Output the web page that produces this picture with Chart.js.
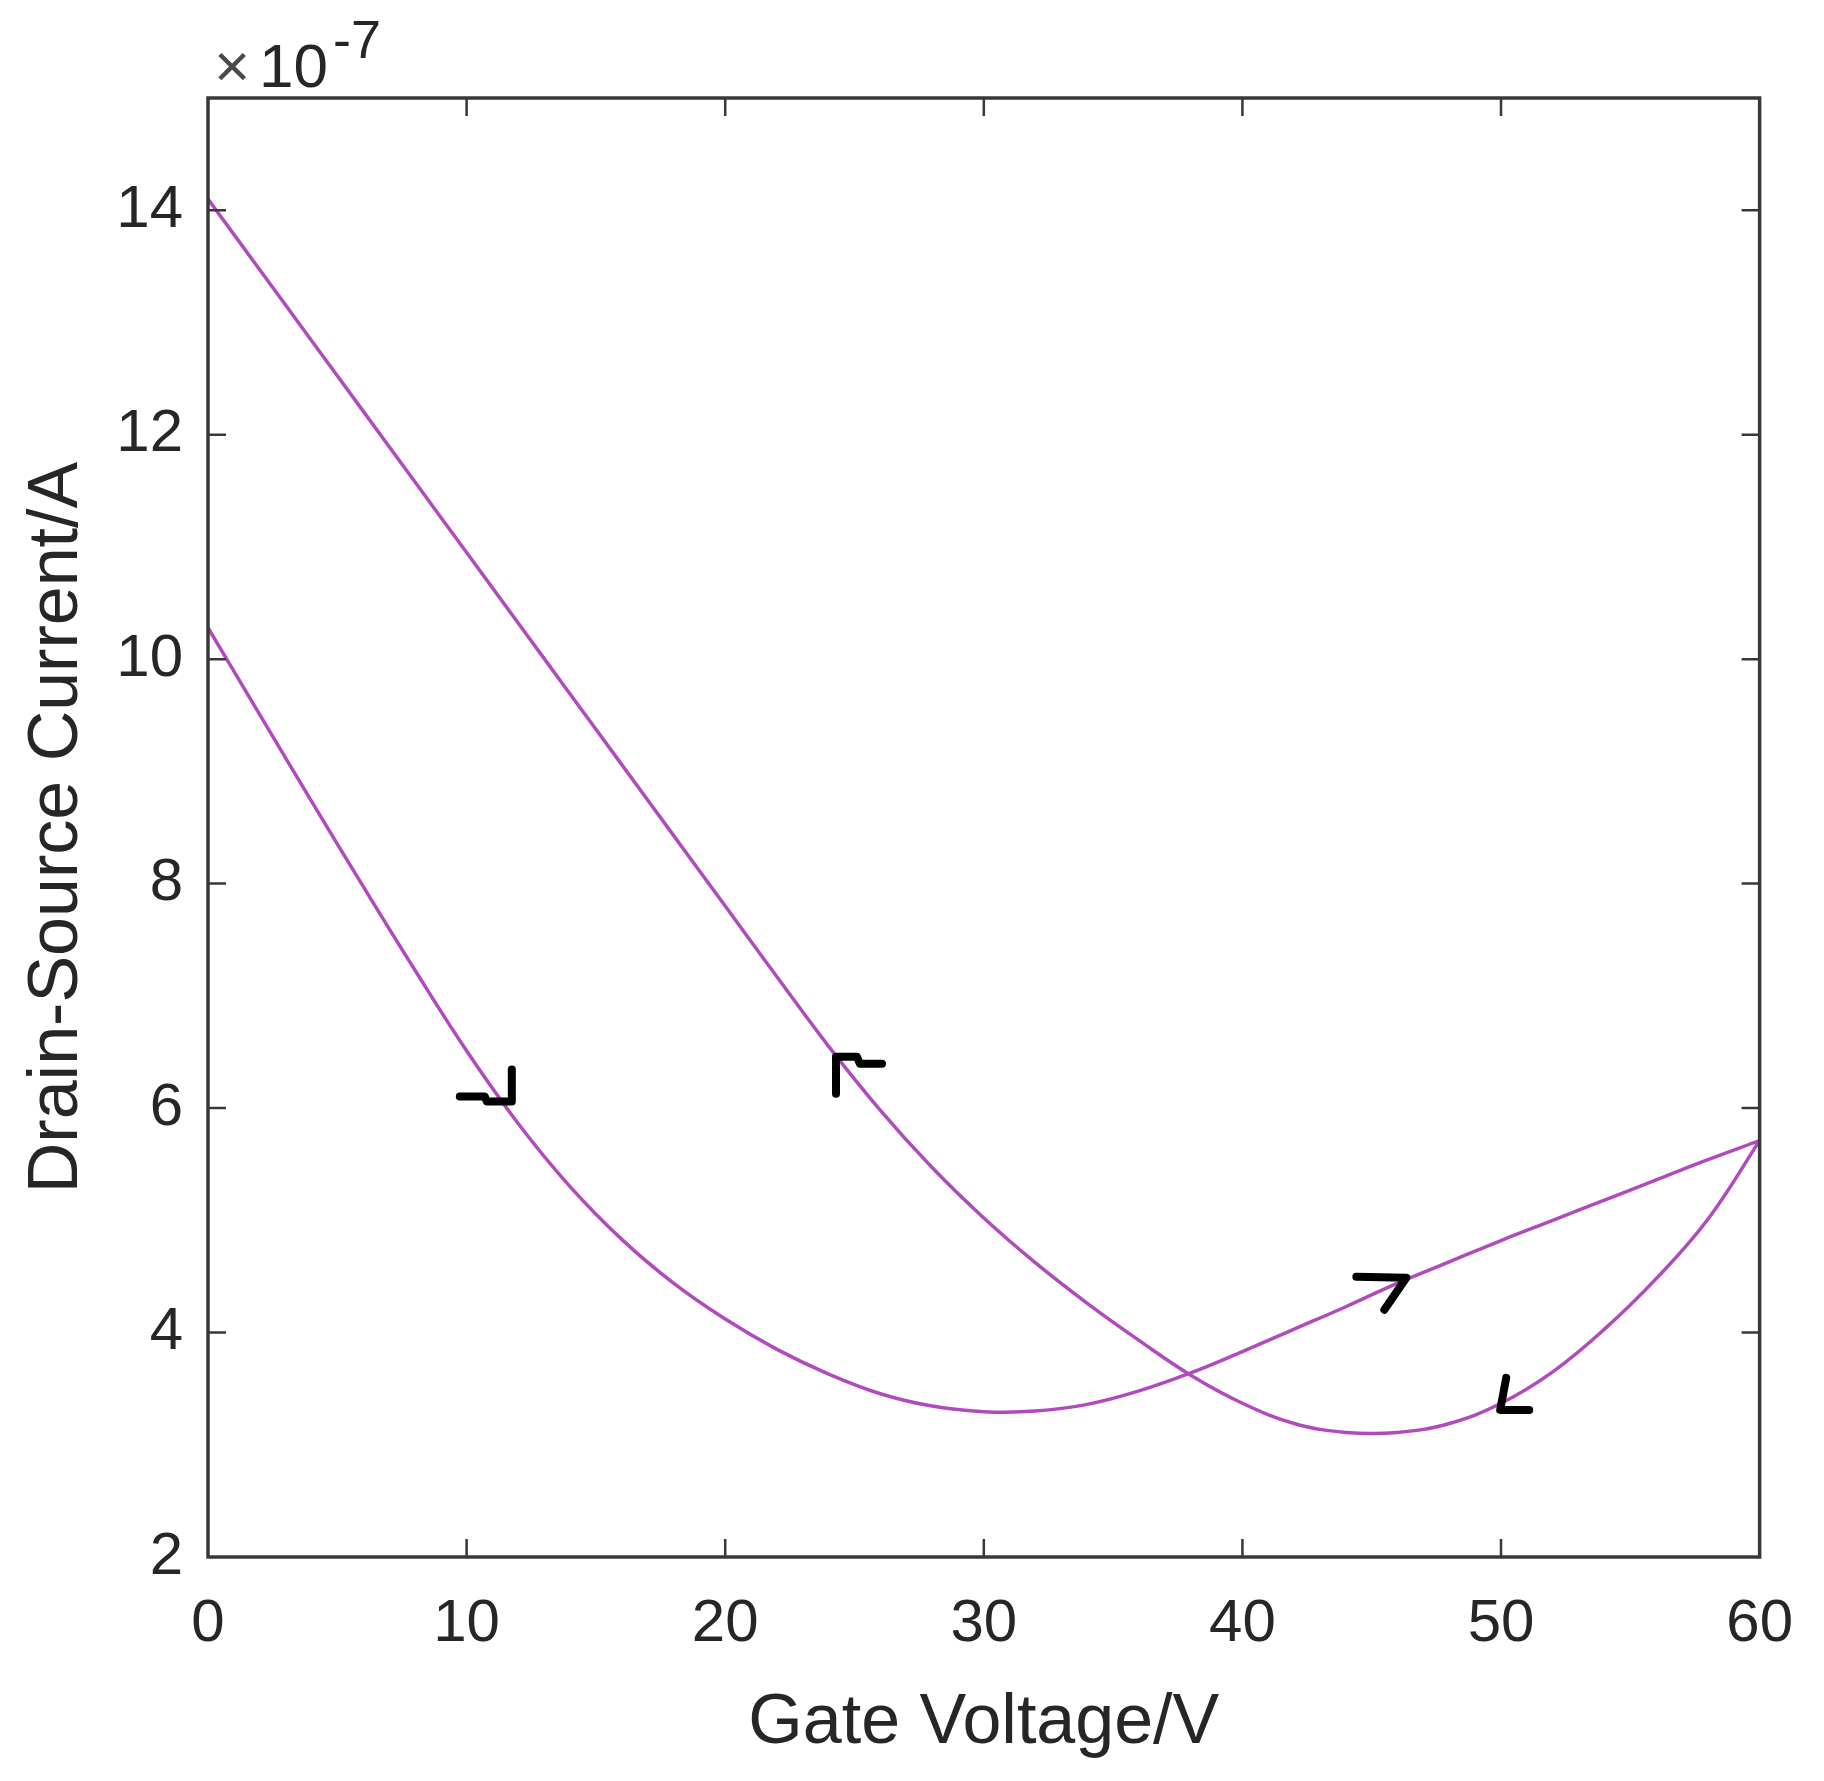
<!DOCTYPE html>
<html>
<head>
<meta charset="utf-8">
<script src="https://cdn.jsdelivr.net/npm/chart.js@4.4.1/dist/chart.umd.min.js"></script>
<style>
  html, body { margin: 0; padding: 0; background: #ffffff; }
  #wrap { width: 1824px; height: 1781px; }
</style>
</head>
<body>
<div id="wrap"><canvas id="c" width="1824" height="1781"></canvas></div>
<script>
// ---------------- data (current in units of 1e-7 A) ----------------
const xTicks = [0, 10, 20, 30, 40, 50, 60];
const yTicks = [2, 4, 6, 8, 10, 12, 14];
const xRange = [0, 60];
const yRange = [2, 15];
const xTitle = 'Gate Voltage/V';
const yTitle = 'Drain-Source Current/A';
const exponentBase = '10';
const exponentPower = '-7';

// forward sweep 0 -> 60 V
const forwardVoltage = [0, 2, 4, 6, 8, 10, 12, 14, 16, 18, 20, 22, 24, 26, 28, 30, 32, 34, 36, 38, 40, 42, 44, 46, 48, 50, 52, 54, 56, 58, 60];
const forwardCurrent = [10.28, 9.505, 8.735, 7.975, 7.23, 6.51, 5.86, 5.30, 4.83, 4.44, 4.12, 3.85, 3.63, 3.455, 3.345, 3.295, 3.30, 3.36, 3.48, 3.64, 3.83, 4.03, 4.23, 4.44, 4.63, 4.82, 5.00, 5.18, 5.36, 5.54, 5.71];

// reverse sweep 60 -> 0 V
const reverseVoltage = [60, 58, 56, 54, 52, 50, 48, 46, 44, 42, 40, 38, 36, 34, 32, 30, 28, 26, 24, 22, 20, 18, 16, 14, 12, 10, 8, 6, 4, 2, 0];
const reverseCurrent = [5.71, 5.01, 4.48, 4.03, 3.65, 3.37, 3.19, 3.11, 3.11, 3.19, 3.37, 3.62, 3.93, 4.26, 4.62, 5.02, 5.47, 5.98, 6.55, 7.17, 7.80, 8.43, 9.06, 9.69, 10.32, 10.95, 11.58, 12.21, 12.84, 13.47, 14.10];

// direction arrows drawn on the curves
const arrowVoltage = [11.4, 24.4, 46.3, 50.2];
const arrowCurrent = [6.05, 6.43, 4.47, 3.40];

// ---------------- styles ----------------
const FONT = '"Liberation Sans", Arial, Helvetica, sans-serif';
const TEXT = '#262626';
const AXIS = '#383838';
const LINE = '#b14bbd';
const TICK_LEN = 18;
// arrow stroke shapes (pixel offsets from the tip)
const arrowShapes = [
  [[-43, -6], [-18, -6], [-16, -1], [9, -1], [9, -33]],
  [[-3, 34], [-3, -3], [18, -3], [21, 4], [43, 4]],
  [[-49, -3], [1, -2], [-21, 30]],
  [[0, -22], [-6, 10], [23, 10]]
];

const toPoints = (xs, ys) => xs.map((v, i) => ({ x: v, y: ys[i] }));

const boxPlugin = {
  id: 'boxAndMarks',
  afterDatasetsDraw(chart) {
    const { ctx, chartArea: a, scales: { x, y } } = chart;
    ctx.save();
    // inward tick marks on all four sides
    ctx.strokeStyle = AXIS;
    ctx.lineWidth = 2.5;
    ctx.beginPath();
    xTicks.forEach(v => {
      const px = x.getPixelForValue(v);
      if (px > a.left + 2 && px < a.right - 2) {
        ctx.moveTo(px, a.bottom); ctx.lineTo(px, a.bottom - TICK_LEN);
        ctx.moveTo(px, a.top); ctx.lineTo(px, a.top + TICK_LEN);
      }
    });
    yTicks.forEach(v => {
      const py = y.getPixelForValue(v);
      if (py > a.top + 2 && py < a.bottom - 2) {
        ctx.moveTo(a.left, py); ctx.lineTo(a.left + TICK_LEN, py);
        ctx.moveTo(a.right, py); ctx.lineTo(a.right - TICK_LEN, py);
      }
    });
    ctx.stroke();
    // box
    ctx.lineWidth = 3.5;
    ctx.strokeRect(a.left, a.top, a.right - a.left, a.bottom - a.top);

    // arrows
    ctx.strokeStyle = '#000000';
    ctx.lineWidth = 8;
    ctx.lineJoin = 'round';
    ctx.lineCap = 'round';
    arrowVoltage.forEach((v, i) => {
      const tx = x.getPixelForValue(v);
      const ty = y.getPixelForValue(arrowCurrent[i]);
      const shape = arrowShapes[i];
      ctx.beginPath();
      shape.forEach((p, k) => {
        if (k === 0) ctx.moveTo(tx + p[0], ty + p[1]);
        else ctx.lineTo(tx + p[0], ty + p[1]);
      });
      ctx.stroke();
    });

    // exponent label
    ctx.textBaseline = 'alphabetic';
    ctx.textAlign = 'left';
    ctx.font = '62px ' + FONT;
    ctx.fillStyle = '#4a4a4a';
    ctx.fillText('\u00d7', a.left + 6, a.top - 11);
    ctx.fillStyle = TEXT;
    ctx.fillText(exponentBase, a.left + 51, a.top - 11);
    ctx.font = '54px ' + FONT;
    ctx.fillText(exponentPower, a.left + 125, a.top - 40);
    ctx.restore();
  }
};

new Chart(document.getElementById('c').getContext('2d'), {
  type: 'scatter',
  data: {
    datasets: [
      {
        data: toPoints(forwardVoltage, forwardCurrent),
        showLine: true, borderColor: LINE, backgroundColor: LINE,
        borderWidth: 3.5, pointRadius: 0, tension: 0.4, fill: false
      },
      {
        data: toPoints(reverseVoltage, reverseCurrent),
        showLine: true, borderColor: LINE, backgroundColor: LINE,
        borderWidth: 3.5, pointRadius: 0, tension: 0.4, fill: false
      }
    ]
  },
  options: {
    responsive: false,
    animation: false,
    devicePixelRatio: 1,
    layout: { padding: { top: 98, right: 53, left: 0, bottom: 0 } },
    plugins: { legend: { display: false }, tooltip: { enabled: false } },
    scales: {
      x: {
        type: 'linear', position: 'bottom', min: xRange[0], max: xRange[1],
        afterBuildTicks: s => { s.ticks = xTicks.map(v => ({ value: v })); },
        afterFit: s => { s.height = 224; },
        grid: { display: false, drawTicks: false },
        border: { display: false },
        ticks: { padding: 31, autoSkip: false, maxRotation: 0, color: TEXT, font: { family: FONT, size: 60 } },
        title: { display: true, text: xTitle, color: TEXT, font: { family: FONT, size: 70 }, padding: { top: 0, bottom: 15 } }
      },
      y: {
        type: 'linear', position: 'left', min: yRange[0], max: yRange[1],
        afterBuildTicks: s => { s.ticks = yTicks.map(v => ({ value: v })); },
        afterFit: s => { s.width = 208; },
        grid: { display: false, drawTicks: false },
        border: { display: false },
        ticks: { padding: 25, autoSkip: false, color: TEXT, font: { family: FONT, size: 60 } },
        title: { display: true, text: yTitle, color: TEXT, font: { family: FONT, size: 70 }, padding: { top: 16, bottom: 0 } }
      }
    }
  },
  plugins: [boxPlugin]
});
</script>
</body>
</html>
